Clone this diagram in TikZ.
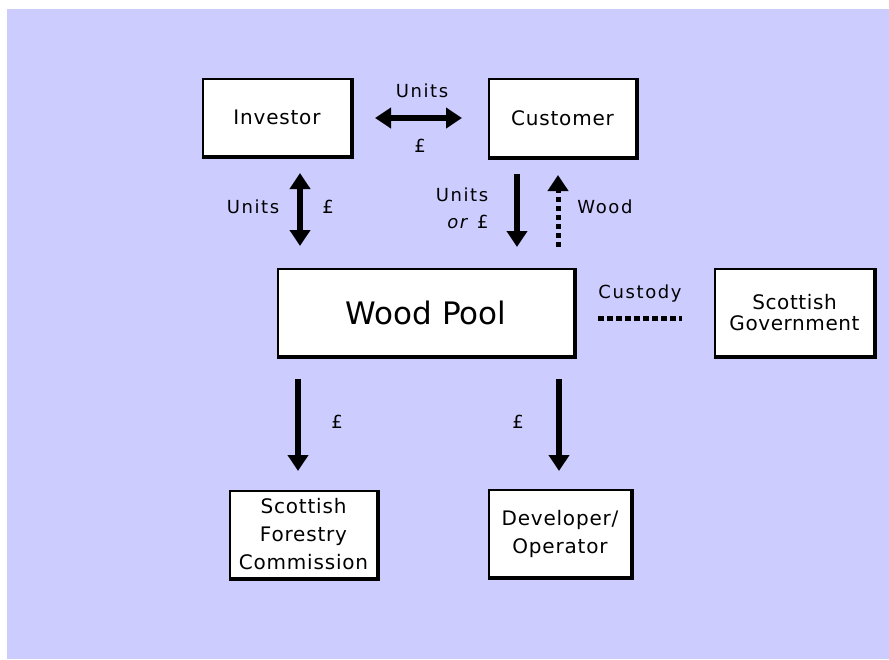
\documentclass[tikz,border=0pt]{standalone}
\usepackage{fontspec}
\setmainfont{DejaVu Sans}
\usetikzlibrary{arrows.meta,calc}
\definecolor{lav}{HTML}{CCCCFF}
\newcommand\wpboxfont{\addfontfeatures{LetterSpace=4}\fontsize{20}{28}\selectfont}
\newcommand\wpsgfont{\addfontfeatures{LetterSpace=3}\fontsize{20}{21.7}\selectfont}
\newcommand\wpbigfont{\fontsize{31}{36}\selectfont}
\newcommand\wplblfont{\addfontfeatures{LetterSpace=9}\fontsize{18}{20}\selectfont}
\begin{document}
\begin{tikzpicture}[x=1pt,y=-1pt,
  box/.style={draw,line width=2pt,fill=white,inner sep=0pt,align=center,font=\wpboxfont},
  lbl/.style={inner sep=0pt,anchor=base,font=\wplblfont},
  tip/.tip={Triangle[width=20pt,length=16pt]},
  flow/.style={line width=6pt,-tip},
  dflow/.style={line width=6pt,tip-tip},
  dotflow/.style={line width=5pt,dash pattern=on 5pt off 4pt,-tip},
  custodyline/.style={line width=5pt,dash pattern=on 6pt off 3pt}]
\useasboundingbox (0,0) rectangle (889,659);
\fill[white] (0,0) rectangle (889,659);
\fill[lav] (7,9) rectangle (889,659);

\node[box,minimum width=148pt,minimum height=77pt] (inv) at (277,117.5) {Investor};
\node[box,minimum width=147pt,minimum height=78pt] (cus) at (562.5,118) {Customer};
\node[box,minimum width=296pt,minimum height=87pt,font=\wpbigfont] (pool) at (426,312.5) {Wood Pool};
\node[box,minimum width=159pt,minimum height=87pt,font=\wpsgfont] (sg) at (794.5,312.5) {Scottish\\Government};
\node[box,minimum width=147pt,minimum height=87pt] (sfc) at (303.5,534.5) {Scottish\\Forestry\\Commission};
\node[box,minimum width=142pt,minimum height=87pt] (dev) at (560,533.5) {Developer/\\Operator};

\foreach \n in {inv,cus,pool,sg,sfc,dev}
  \draw[line width=2pt] ($(\n.south west)+(0,1)$) -- ($(\n.south east)+(1,1)$) -- ($(\n.north east)+(1,0)$);

\draw[dflow] ($(inv.east)+(23,0.5)$) -- ($(cus.west)+(-26,0)$);
\draw[dflow] ($(inv.south)+(23,16)$) -- ($(pool.north)+(-126,-22)$);
\draw[flow] ($(cus.south)+(-45.5,16)$) -- ($(pool.north)+(91,-21)$);
\draw[dotflow] ($(pool.north)+(132,-21)$) -- ($(cus.south)+(-4.5,17)$);
\draw[flow] ($(pool.south)+(-128,22)$) -- ($(sfc.north)+(-5.5,-19)$);
\draw[flow] ($(pool.south)+(133,22)$) -- ($(dev.north)+(-1,-18)$);
\draw[custodyline] ($(pool.east)+(23,5.5)$) -- ($(sg.west)+(-32,5.5)$);

\node[lbl] (l1) at (422,97) {Units};
\node[lbl] (l2) at (420,152) {£};
\node[lbl] (l3) at (253,213) {Units};
\node[lbl] (l4) at (328,213) {£};
\node[lbl] (l5) at (462,201) {Units};
\node[lbl] (l6) at (468,228) {\textit{or} £};
\node[lbl] (l7) at (605,213) {Wood};
\node[lbl] (l8) at (640,298) {Custody};
\node[lbl] (l9) at (337,428) {£};
\node[lbl] (l10) at (518,428) {£};
\end{tikzpicture}
\end{document}
